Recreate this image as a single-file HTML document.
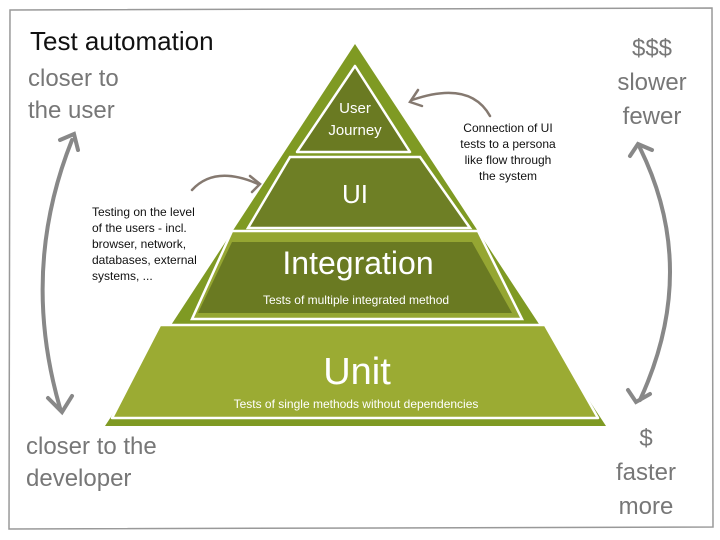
<!DOCTYPE html>
<html><head><style>
body{margin:0;background:#fff;}
svg{display:block;}
.h{font-family:"Liberation Sans",sans-serif;}
</style></head><body>
<svg width="720" height="540" viewBox="0 0 720 540">
<rect x="0" y="0" width="720" height="540" fill="#fff"/>
<path d="M10 10 L712 8 L713 527 L9 529 Z" fill="none" stroke="#999" stroke-width="1.5"/>
<!-- outer triangle -->
<polygon points="355,44 105,426 606,426" fill="#7f9a23"/>
<!-- unit -->
<polygon points="160,325 545,325 598,418 112,418" fill="#9bab33" stroke="#fff" stroke-width="2.5" stroke-linejoin="round"/>
<!-- integration -->
<polygon points="232,231 478,231 522,319 192,319" fill="#95a632" stroke="#fff" stroke-width="2.5"/>
<polygon points="232,242 472,242 512,313 198,313" fill="#6a7a22"/>
<!-- UI -->
<polygon points="290,157 420,157 470,228 248,228" fill="#6e7f25" stroke="#fff" stroke-width="2.5"/>
<!-- user journey -->
<polygon points="355,66 410,152 297,152" fill="#6a7a22" stroke="#fff" stroke-width="2.5" stroke-linejoin="round"/>
<g class="h" fill="#fff" text-anchor="middle">
<text x="355" y="113" font-size="15">User</text>
<text x="355" y="135" font-size="15">Journey</text>
<text x="355" y="203" font-size="26">UI</text>
<text x="358" y="274" font-size="32">Integration</text>
<text x="356" y="304" font-size="12">Tests of multiple integrated method</text>
<text x="357" y="384" font-size="38">Unit</text>
<text x="356" y="408" font-size="12">Tests of single methods without dependencies</text>
</g>
<g class="h" fill="#111" font-size="12">
<text x="92" y="216">Testing on the level</text>
<text x="92" y="232">of the users - incl.</text>
<text x="92" y="248">browser, network,</text>
<text x="92" y="264">databases, external</text>
<text x="92" y="280">systems, ...</text>
<g text-anchor="middle">
<text x="508" y="132">Connection of UI</text>
<text x="508" y="148">tests to a persona</text>
<text x="508" y="164">like flow through</text>
<text x="508" y="180">the system</text>
</g>
</g>
<g class="h" font-size="26">
<text x="30" y="50" fill="#111">Test automation</text>
<text x="28" y="86" fill="#777" font-size="24">closer to</text>
<text x="28" y="118" fill="#777" font-size="24">the user</text>
<text x="26" y="454" fill="#777" font-size="24">closer to the</text>
<text x="26" y="486" fill="#777" font-size="24">developer</text>
<g text-anchor="middle" fill="#777" font-size="24">
<text x="652" y="56">$$$</text>
<text x="652" y="90">slower</text>
<text x="652" y="124">fewer</text>
<text x="646" y="446">$</text>
<text x="646" y="480">faster</text>
<text x="646" y="514">more</text>
</g>
</g>
<g fill="none" stroke="#888" stroke-width="4" stroke-linecap="round">
<path d="M72 140 Q20 270 60 408"/>
<path d="M60 140 L74 134 L78 150"/>
<path d="M48 398 L62 412 L72 396"/>
<path d="M640 148 Q700 270 640 400"/>
<path d="M630 156 L638 144 L652 150"/>
<path d="M628 390 L636 402 L650 394"/>
</g>
<g fill="none" stroke="#857970" stroke-width="2.5" stroke-linecap="round">
<path d="M490 116 Q470 80 412 100"/>
<path d="M418 90 L410 102 L422 106"/>
<path d="M192 190 Q215 165 258 184"/>
<path d="M250 176 L260 184 L252 192"/>
</g>
</svg>
</body></html>
